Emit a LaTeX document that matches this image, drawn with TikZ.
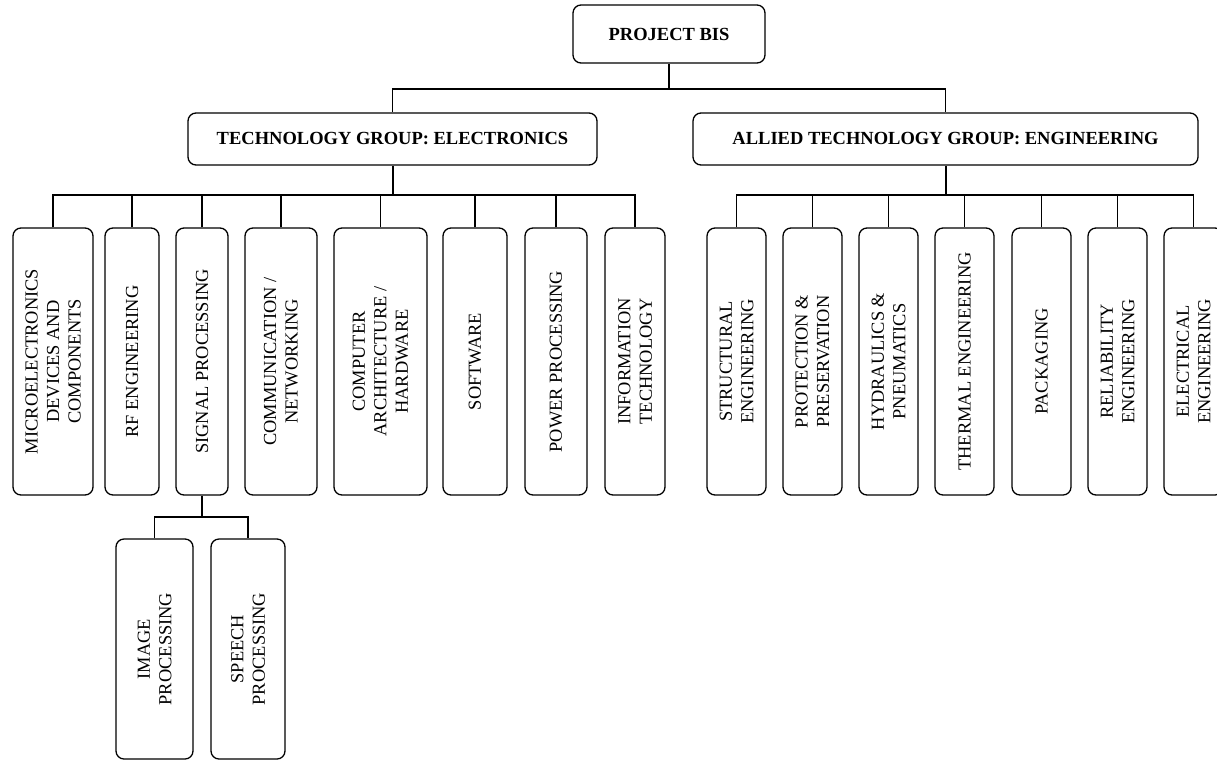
\documentclass[tikz,border=0pt]{standalone}
\usepackage{fontspec}
\setmainfont{Liberation Serif}
\begin{document}
\begin{tikzpicture}[x=1pt,y=-1pt,
  box/.style={draw, rounded corners=8pt, line width=1.3pt, align=center, inner sep=2pt},
  hbox/.style={box, font=\fontsize{18.5}{22}\selectfont\bfseries},
  vbox/.style={box, rotate=90, minimum width=267pt, font=\fontsize{18.4}{21.5}\selectfont},
  sbox/.style={box, rotate=90, minimum width=220pt, font=\fontsize{18.4}{21.5}\selectfont},
  link/.style={line width=1.1pt},
  trunk/.style={line width=2pt}]
\useasboundingbox (0,0) rectangle (1217,761);

% top level
\node[hbox, minimum width=192pt, minimum height=58pt] (root) at (669,34) {PROJECT BIS};
\node[hbox, minimum width=409pt, minimum height=52pt] (tech) at (392.5,139) {TECHNOLOGY GROUP: ELECTRONICS};
\node[hbox, minimum width=505pt, minimum height=52pt] (allied) at (945.5,139) {ALLIED TECHNOLOGY GROUP: ENGINEERING};

% electronics children
\node[vbox, minimum height=80pt] (micro)  at (53,361.5)   {MICROELECTRONICS\\DEVICES AND\\COMPONENTS};
\node[vbox, minimum height=54pt] (rf)     at (132,361.5)  {RF ENGINEERING};
\node[vbox, minimum height=52pt] (signal) at (202,361.5)  {SIGNAL PROCESSING};
\node[vbox, minimum height=72pt] (comm)   at (281,361.5)  {COMMUNICATION /\\NETWORKING};
\node[vbox, minimum height=93pt] (comp)   at (380.5,361.5){COMPUTER\\ARCHITECTURE /\\HARDWARE};
\node[vbox, minimum height=64pt] (soft)   at (475,361.5)  {SOFTWARE};
\node[vbox, minimum height=62pt] (power)  at (556,361.5)  {POWER PROCESSING};
\node[vbox, minimum height=60pt] (info)   at (635,361.5)  {INFORMATION\\TECHNOLOGY};

% engineering children
\node[vbox, minimum height=59pt] (struct) at (736.5,361.5)  {STRUCTURAL\\ENGINEERING};
\node[vbox, minimum height=59pt] (prot)   at (812.5,361.5)  {PROTECTION \&\\PRESERVATION};
\node[vbox, minimum height=59pt] (hydr)   at (888.5,361.5)  {HYDRAULICS \&\\PNEUMATICS};
\node[vbox, minimum height=59pt] (therm)  at (964.5,361.5)  {THERMAL ENGINEERING};
\node[vbox, minimum height=59pt] (pack)   at (1041.5,361.5) {PACKAGING};
\node[vbox, minimum height=59pt] (rel)    at (1117.5,361.5) {RELIABILITY\\ENGINEERING};
\node[vbox, minimum height=59pt] (elec)   at (1193.5,361.5) {ELECTRICAL\\ENGINEERING};

% signal processing children
\node[sbox, minimum height=77pt] (image)  at (154.5,649) {IMAGE\\PROCESSING};
\node[sbox, minimum height=74pt] (speech) at (248,649)   {SPEECH\\PROCESSING};

% connectors
\coordinate (b0) at (669,89);
\draw[link] (root.south) -- (b0);
\draw[link] (tech.north) |- (b0) -| (allied.north);

\coordinate (bL) at (392.5,195);
\draw[trunk] (tech.south) -- (bL);
\draw[link] (micro.east) |- (bL) -| (info.east);
\foreach \n in {rf,signal,comm,comp,soft,power}
  \draw[link] (\n.east) -- (\n.east |- bL);

\coordinate (bR) at (945.5,195);
\draw[trunk] (allied.south) -- (bR);
\draw[link] (struct.east) |- (bR) -| (elec.east);
\foreach \n in {prot,hydr,therm,pack,rel}
  \draw[link] (\n.east) -- (\n.east |- bR);

\coordinate (bS) at (202,517);
\draw[link] (signal.west) -- (bS);
\draw[link] (image.east) |- (bS) -| (speech.east);
\end{tikzpicture}
\end{document}
